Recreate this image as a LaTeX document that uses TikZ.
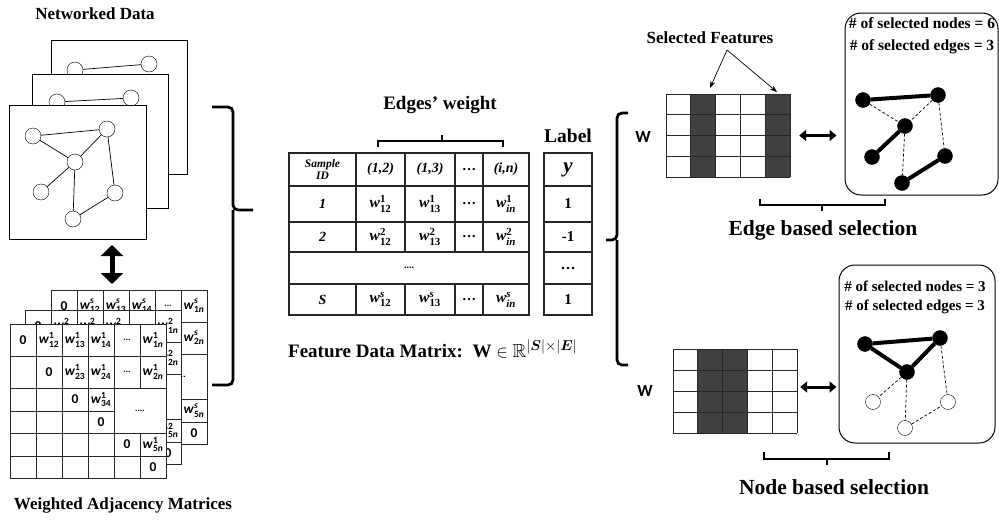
\documentclass[tikz,border=0pt]{standalone}
\usepackage{amsmath,amssymb,bm}
\usepackage{fontspec}
\setmainfont{Liberation Serif}
\setsansfont{Carlito}
\usetikzlibrary{arrows.meta}

\definecolor{cdark}{HTML}{404040}
\newcommand{\fs}[1]{\fontsize{#1}{#1}\selectfont}
\newcommand{\wt}[2]{$\textbf{\textit{w}}^{\textbf{#1}}_{\textbf{#2}}$}

% one weighted adjacency matrix: top left corner (#1,#2), name #3, sample #4
\newcommand{\adjmat}[4]{%
  \begin{scope}[shift={(#1,#2)}]
    \filldraw[cell,fill=white] (0,0) rectangle (156,154);
    \foreach \x in {26,52,78,104} \draw[cell] (\x,0) -- (\x,154);
    \draw[cell] (130,0) -- (130,64) (130,109) -- (130,154);
    \foreach \y in {32,64,109,132} \draw[cell] (0,\y) -- (156,\y);
    \draw[cell] (0,87) -- (104,87);
    \foreach \px/\py/\t [count=\i] in {13/16/0, 39/16/{\wt{#4}{12}}, 65/16/{\wt{#4}{13}},
        91/16/{\wt{#4}{14}}, 117/16/{\fs{9}...}, 143/16/{\wt{#4}{1\textit{n}}},
        39/48/0, 65/48/{\wt{#4}{23}}, 91/48/{\wt{#4}{24}}, 117/48/{\fs{9}...}, 143/48/{\wt{#4}{2\textit{n}}},
        65/75.5/0, 91/75.5/{\wt{#4}{34}}, 91/98/0, 130/86.5/{\fs{9}....},
        117/120.5/0, 143/120.5/{\wt{#4}{5\textit{n}}}, 143/143/0}
      \node[mcell] (mat#3-\i) at (\px,\py) {\t};
  \end{scope}}

\begin{document}
\begin{tikzpicture}[x=1pt,y=-1pt,font=\bfseries]
  \useasboundingbox (0,0) rectangle (999,525);
  \tikzset{vertex/.style = {shape=circle,draw,fill=white,inner sep=0pt,minimum size=16pt}}
  \tikzset{picked/.style = {shape=circle,draw,fill=black,inner sep=0pt,minimum size=15pt}}
  \tikzset{edge/.style = {draw,line width=0.7pt}}
  \tikzset{strong/.style = {draw,line width=4pt}}
  \tikzset{weak/.style = {draw,line width=0.7pt,dash pattern=on 3pt off 2pt}}
  \tikzset{cell/.style = {line width=1pt,draw=black!85}}
  \tikzset{mcell/.style = {font=\sffamily\bfseries\fs{13.5},inner sep=0pt}}
  \tikzset{tab/.style = {line width=1.1pt,draw=black!85}}
  \tikzset{tcell/.style = {font=\bfseries\fs{15.5},inner sep=0pt}}
  \tikzset{brc/.style = {line width=2.8pt,rounded corners=5pt}}
  \tikzset{brk/.style = {line width=2.4pt}}
  \tikzset{dbl/.style = {line width=3pt,{Triangle[width=11pt,length=7pt]}-{Triangle[width=11pt,length=7pt]}}}
  \tikzset{title/.style = {font=\bfseries\fs{17}}}
  \tikzset{big/.style = {font=\bfseries\fs{21.5}}}

  % networked data
  \node[title] (netlbl) at (95,14) {Networked Data};
  \draw[line width=0.8pt,fill=white] (51,40) rectangle (187,174);
  \node[vertex] (n1) at (75,70) {};
  \node[vertex] (n2) at (149,64) {};
  \path[edge] (n1) edge (n2);
  \draw[line width=0.8pt,fill=white] (32,74) rectangle (168,208);
  \node[vertex] (m1) at (57,102) {};
  \node[vertex] (m2) at (131,98) {};
  \path[edge] (m1) edge (m2);
  \draw[line width=0.8pt,fill=white] (9,105) rectangle (146,239);
  \node[vertex] (a) at (33,136) {};
  \node[vertex] (b) at (107,129) {};
  \node[vertex] (c) at (75,162) {};
  \node[vertex] (d) at (41,192) {};
  \node[vertex] (e) at (115,193) {};
  \node[vertex] (f) at (73,219) {};
  \path[edge] (a) edge (b) (a) edge (c) (b) edge (c) (c) edge (d)
              (c) edge (f) (b) edge (e) (e) edge (f);

  \coordinate (up) at (112,245);
  \coordinate (dn) at (112,284);
  \draw[line width=5pt,{Triangle[width=22pt,length=11pt]}-{Triangle[width=22pt,length=11pt]}] (up) -- (dn);

  % weighted adjacency matrices
  \adjmat{51}{290}{s}{\textit{s}}
  \adjmat{25}{310}{2}{2}
  \adjmat{10}{324}{1}{1}
  \node[title] (adjlbl) at (123,505) {Weighted Adjacency Matrices};

  \draw[brc] (212,107) -| (233,210) -- (253,210);
  \draw[brc] (233,210) |- (212,385);

  % feature data matrix
  \node[font=\bfseries\fs{19}] (ewlbl) at (440,105) {Edges’ weight};
  \draw[brk] (378,147) |- (503,141) -- (503,147);
  \draw[brk] (442,141) -- (442,135);
  \node[font=\bfseries\fs{19.5}] (lbl) at (568,136) {Label};

  \draw[tab] (289,153) rectangle (529,315);
  \foreach \y in {186,222,252,284} \draw[tab] (289,\y) -- (529,\y);
  \foreach \x in {356,405,455,483} \draw[tab] (\x,153) -- (\x,252) (\x,284) -- (\x,315);
  \draw[tab] (544,153) rectangle (592,315);
  \foreach \y in {186,222,252,284} \draw[tab] (544,\y) -- (592,\y);

  \node[tcell,align=center,font=\bfseries\itshape\fontsize{11.5}{12.5}\selectfont] (sid) at (322.5,169.5) {Sample\\ID};
  \node[tcell,font=\bfseries\itshape\fs{14}] (h2) at (380.5,169.5) {(1,2)};
  \node[tcell,font=\bfseries\itshape\fs{14}] (h3) at (430,169.5) {(1,3)};
  \node[tcell,font=\bfseries\fs{14}] (hd) at (469,169.5) {…};
  \node[tcell,font=\bfseries\itshape\fs{14}] (hn) at (506,169.5) {(i,n)};
  \foreach \r/\y/\k/\s in {1/204/1/1, 2/237/2/2, 3/299.5/{\textit{s}}/S} {
    \node[tcell,font=\bfseries\itshape\fs{14}] (id\r) at (322.5,\y) {\s};
    \node[tcell] (w\r-2) at (380.5,\y) {\wt{\k}{12}};
    \node[tcell] (w\r-3) at (430,\y) {\wt{\k}{13}};
    \node[tcell,font=\bfseries\fs{14}] (w\r-d) at (469,\y) {…};
    \node[tcell] (w\r-n) at (506,\y) {\wt{\k}{\textit{in}}};
  }
  \node[tcell,font=\bfseries\fs{10}] (rdots) at (409,268) {....};
  \node[tcell,font=\bfseries\itshape\fs{21}] (ly) at (568,169.5) {y};
  \node[tcell,font=\bfseries\fs{15}] (l1) at (568,204) {1};
  \node[tcell,font=\bfseries\fs{15}] (l2) at (568,237) {-1};
  \node[tcell,font=\bfseries\fs{15}] (ld) at (568,268) {…};
  \node[tcell,font=\bfseries\fs{15}] (ls) at (568,299.5) {1};
  \node[font=\bfseries\fs{19},anchor=west,inner sep=0pt] (fdm) at (288,349)
    {Feature Data Matrix:~~$\mathbf{W}\in\mathbb{R}^{|\bm{S}|\times|\bm{E}|}$};

  \draw[brc] (628,113) -| (617,240) -- (606,240);
  \draw[brc] (617,240) |- (628,365);

  % edge based selection
  \node[font=\bfseries\fs{17}] (sf) at (710,38) {Selected Features};
  \coordinate (sfa) at (727,50);
  \coordinate (col2) at (710,88);
  \coordinate (col5) at (777,92);
  \draw[line width=0.7pt,-{Stealth[length=7pt,width=5pt]}] (sfa) -- (col2);
  \draw[line width=0.7pt,-{Stealth[length=7pt,width=5pt]}] (sfa) -- (col5);
  \node[font=\sffamily\bfseries\fs{17}] (w1) at (643,137) {W};
  \foreach \i in {1,4} \fill[cdark] (666+24.8*\i,94) rectangle (690.8+24.8*\i,177);
  \foreach \i in {0,...,5} \draw[cell] (666+24.8*\i,94) -- (666+24.8*\i,177);
  \foreach \i in {0,...,4} \draw[cell] (666,94+20.75*\i) -- (790,94+20.75*\i);
  \node[inner sep=0pt,minimum width=124pt,minimum height=83pt] (egrid) at (728,135.5) {};
  \node[draw,line width=1pt,rounded corners=16pt,minimum width=153pt,minimum height=182pt] (ebox) at (921.5,104) {};
  \draw[dbl] ([xshift=9pt]egrid.east) -- ([xshift=-8pt]egrid.east -| ebox.west);
  \node[align=center,font=\bfseries\fontsize{15.5}{22}\selectfont] (ecnt) at (922,36)
    {\# of selected nodes = 6\\\# of selected edges = 3};
  \node[picked] (p1) at (863,100) {};
  \node[picked] (p2) at (938,95) {};
  \node[picked] (p3) at (905,126) {};
  \node[picked] (p4) at (872,157) {};
  \node[picked] (p5) at (945,156) {};
  \node[picked] (p6) at (902,183) {};
  \path[strong] (p1) edge (p2) (p3) edge (p4) (p5) edge (p6);
  \path[weak] (p1) edge (p3) (p2) edge (p3) (p3) edge (p6) (p2) edge (p5);
  \draw[brk] (760,199) |- (885,205) -- (885,199);
  \draw[brk] (822,205) -- (822,211);
  \node[big] (esel) at (823,230) {Edge based selection};

  % node based selection
  \node[font=\sffamily\bfseries\fs{17}] (w2) at (645,391) {W};
  \foreach \i in {1,2} \fill[cdark] (673+24.8*\i,349) rectangle (697.8+24.8*\i,433);
  \foreach \i in {0,...,5} \draw[cell] (673+24.8*\i,349) -- (673+24.8*\i,433);
  \foreach \i in {0,...,4} \draw[cell] (673,349+21*\i) -- (797,349+21*\i);
  \node[inner sep=0pt,minimum width=124pt,minimum height=84pt] (ngrid) at (735,387) {};
  \node[draw,line width=1pt,rounded corners=16pt,minimum width=156pt,minimum height=178pt] (nbox) at (917,354) {};
  \draw[dbl] ([xshift=3pt]ngrid.east) -- ([xshift=-2pt]ngrid.east -| nbox.west);
  \node[align=center,font=\bfseries\fontsize{15}{19}\selectfont] (ncnt) at (915,297.5)
    {\# of selected nodes = 3\\\# of selected edges = 3};
  \node[picked] (q1) at (865,344) {};
  \node[picked] (q2) at (940,338) {};
  \node[picked] (q3) at (907,372) {};
  \node[vertex,minimum size=15pt] (r1) at (873,402) {};
  \node[vertex,minimum size=15pt] (r2) at (948,402) {};
  \node[vertex,minimum size=15pt] (r3) at (905,428) {};
  \path[strong] (q1) edge (q2) (q2) edge (q3) (q3) edge (q1);
  \path[weak] (q3) edge (r1) (q3) edge (r3) (q2) edge (r2) (r3) edge (r2);
  \draw[brk] (764,452) |- (889,459) -- (889,452);
  \draw[brk] (827,459) -- (827,465);
  \node[big] (nsel) at (834,487) {Node based selection};
\end{tikzpicture}
\end{document}
